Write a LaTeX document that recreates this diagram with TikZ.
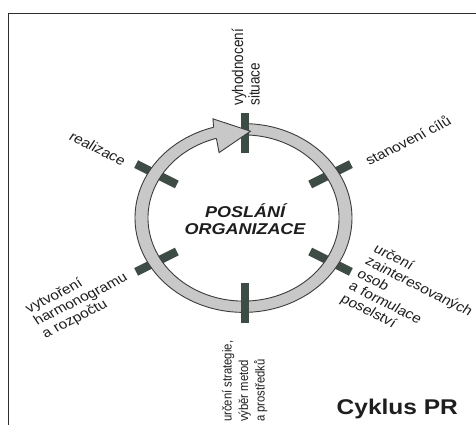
\documentclass[tikz,border=0pt]{standalone}
\usepackage{fontspec}
\setmainfont{Liberation Sans}
\definecolor{tickc}{RGB}{62,76,70}
\definecolor{ringc}{RGB}{200,200,200}
\definecolor{ringline}{RGB}{60,60,60}
\definecolor{framec}{RGB}{45,45,45}
\definecolor{txtc}{RGB}{30,30,30}
\begin{document}
\begin{tikzpicture}[x=1pt,y=1pt,
  lbl/.style={font=\fontsize{15.5}{16.5}\selectfont, text=txtc, inner sep=0pt, align=left},
  tickmark/.style={draw=tickc, line width=8.5pt},
  ringband/.style={fill=ringc, draw=ringline, line width=0.9pt},
  framestyle/.style={draw=framec, line width=1.4pt}]
\useasboundingbox (0,0) rectangle (476,425);
\fill[white] (0,0) rectangle (476,425);
\coordinate (FL) at (8.3,0);
\coordinate (FC) at (8.3,411.7);
\coordinate (FR) at (476,411.7);
\draw[framestyle] (FL) -- (FC) -- (FR);
\begin{scope}[shift={(243.5,207)}, yscale=0.87, transform shape]
  % side ticks (under the ring)
  \foreach \a in {30,150,210,330} {
    \draw[tickmark] (\a:77) -- (\a:124);
  }
  % ring band
  \path[ringband] (89:108.5) arc[start angle=89, end angle=-256, radius=108.5]
    -- (-256:95.5) arc[start angle=-256, end angle=89, radius=95.5] -- cycle;
  % top and bottom ticks (over the ring)
  \coordinate (tA) at (1.5,75);
  \coordinate (tB) at (1.5,121);
  \coordinate (bA) at (1.5,-75);
  \coordinate (bB) at (1.5,-121);
  \draw[tickmark] (tA) -- (tB);
  \draw[tickmark] (bA) -- (bB);
  % arrowhead
  \fill[ringc] (106.5:95.5) -- (108:79) -- (86:100) -- (105:118) -- (106:108.5) -- cycle;
  \draw[ringline, line width=0.9pt, line join=miter] (106:108.5) -- (105:118) -- (86:100) -- (108:79) -- (106.5:95.5);
  % labels
  \node[lbl, rotate=90, anchor=west] (l1) at (89:129) {vyhodnocení\\situace};
  \node[lbl, rotate=30, anchor=west] (l2) at (28:139) {stanovení cílů};
  \node[lbl, rotate=-30, anchor=west] (l3) at (331:131) {určení\\zainteresovaných\\osob\\a formulace\\poselství};
  \node[lbl, font=\fontsize{13}{16.5}\selectfont, rotate=90, anchor=east] (l4) at (270.5:141) {určení strategie,\\výběr metod\\a prostředků};
  \node[lbl, rotate=30, anchor=east] (l5) at (210:135) {vytvoření\\harmonogramu\\a rozpočtu};
  \node[lbl, rotate=-30, anchor=east] (l6) at (151.5:135) {realizace};
  \node[font=\bfseries\itshape\fontsize{18}{20}\selectfont, align=center, text=txtc] (mission) at (1.5,-1) {POSLÁNÍ\\ORGANIZACE};
  \node[font=\bfseries\fontsize{24.5}{28}\selectfont, anchor=base west, inner sep=0pt, text=txtc] (title) at (93,-226.4) {Cyklus PR};
\end{scope}
\end{tikzpicture}
\end{document}
